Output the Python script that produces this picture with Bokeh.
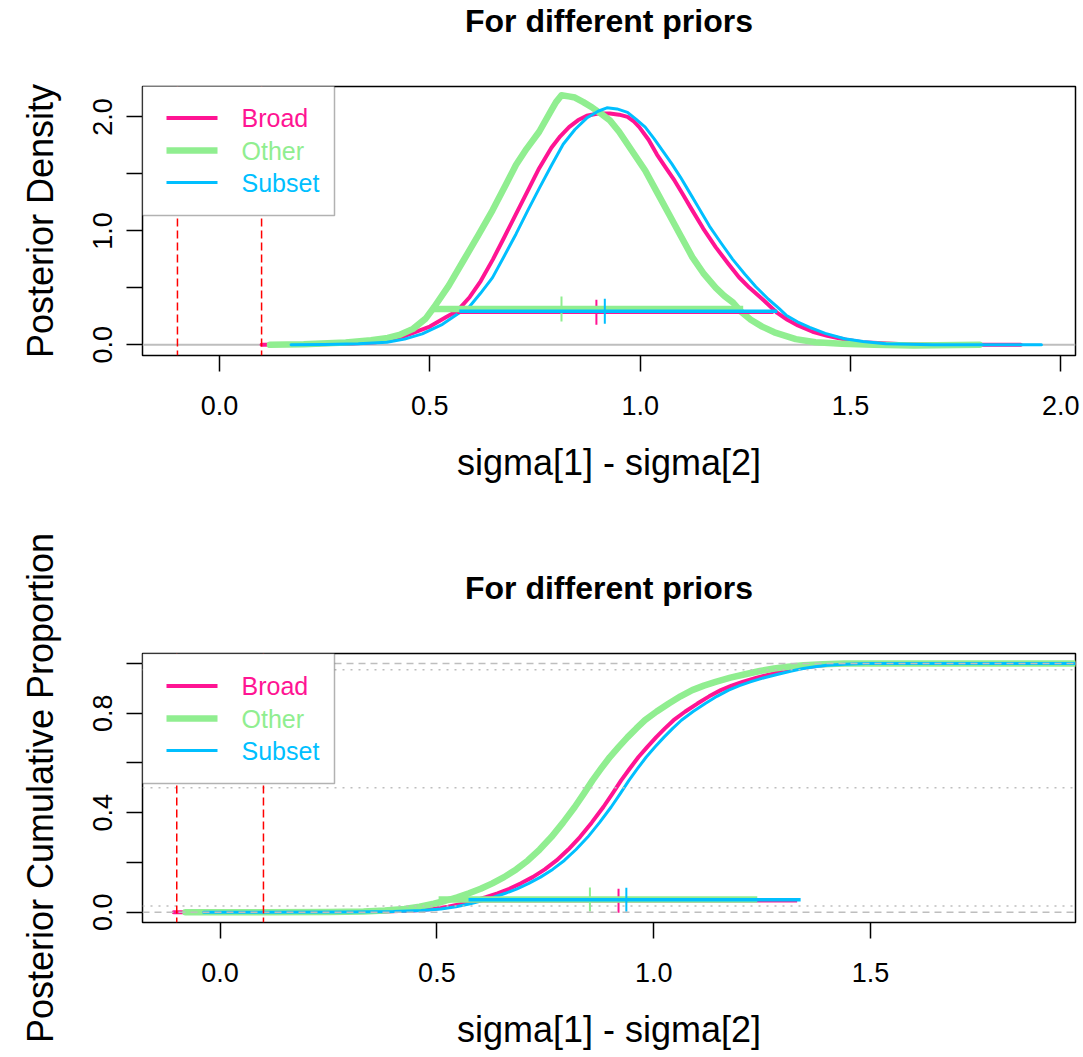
from bokeh.plotting import figure
from bokeh.models import (Range1d, FixedTicker, Span, BoxAnnotation, Label, Title,
                          NumeralTickFormatter)
from bokeh.layouts import column
from bokeh.embed import file_html
from bokeh.resources import INLINE

# ---------------- data ----------------
series = ["Broad", "Other", "Subset"]
colors = ["#FF1493", "#90EE90", "#00BFFF"]
rope = [-0.1, 0.1]

# posterior densities of sigma[1] - sigma[2]
broad_dens_x = [0.10, 0.20, 0.30, 0.37, 0.42, 0.454, 0.50, 0.538, 0.566, 0.595, 0.621, 0.65, 0.677,
                0.705, 0.733, 0.76, 0.789, 0.81, 0.831, 0.852, 0.873, 0.90, 0.928, 0.950, 0.970,
                0.985, 0.998, 1.02, 1.04, 1.06, 1.082, 1.10, 1.124, 1.15, 1.18, 1.21, 1.235, 1.26,
                1.291, 1.326, 1.35, 1.375, 1.41, 1.445, 1.49, 1.528, 1.626, 1.75, 1.905]
broad_dens_y = [0.0, 0.003, 0.01, 0.023, 0.05, 0.096, 0.16, 0.242, 0.30, 0.42, 0.56, 0.75, 0.944,
                1.15, 1.353, 1.55, 1.73, 1.83, 1.91, 1.97, 2.01, 2.03, 2.03, 2.02, 2.0,
                1.96, 1.91, 1.80, 1.67, 1.56, 1.44, 1.33, 1.18, 1.02, 0.855, 0.71, 0.593, 0.50,
                0.40, 0.28, 0.22, 0.17, 0.115, 0.08, 0.045, 0.023, 0.005, 0.0, 0.0]
other_dens_x = [0.12, 0.20, 0.30, 0.36, 0.40, 0.43, 0.46, 0.49, 0.51, 0.545, 0.58, 0.615, 0.649,
                0.68, 0.705, 0.73, 0.76, 0.789, 0.80, 0.813, 0.83, 0.845, 0.865, 0.887, 0.91,
                0.928, 0.95, 0.970, 0.99, 1.012, 1.04, 1.068, 1.096, 1.124, 1.15, 1.18, 1.20,
                1.221, 1.24, 1.263, 1.29, 1.319, 1.37, 1.417, 1.48, 1.556, 1.65, 1.807]
other_dens_y = [0.0, 0.005, 0.02, 0.04, 0.06, 0.09, 0.14, 0.23, 0.33, 0.52, 0.74, 0.96, 1.18,
                1.40, 1.58, 1.72, 1.87, 2.06, 2.13, 2.19, 2.18, 2.17, 2.13, 2.08, 2.02,
                1.97, 1.87, 1.76, 1.65, 1.53, 1.34, 1.15, 0.96, 0.77, 0.63, 0.50, 0.43,
                0.37, 0.29, 0.22, 0.16, 0.11, 0.05, 0.023, 0.01, 0.0, -0.005, 0.0]
subset_dens_x = [0.17, 0.25, 0.33, 0.398, 0.44, 0.482, 0.53, 0.566, 0.593, 0.62, 0.649, 0.677,
                 0.705, 0.733, 0.761, 0.79, 0.817, 0.845, 0.873, 0.90, 0.921, 0.945, 0.970, 0.99,
                 1.012, 1.033, 1.054, 1.075, 1.096, 1.117, 1.138, 1.165, 1.194, 1.22, 1.249, 1.275,
                 1.305, 1.33, 1.347, 1.375, 1.403, 1.44, 1.486, 1.53, 1.584, 1.696, 1.82, 1.954]
subset_dens_y = [0.0, 0.003, 0.01, 0.023, 0.05, 0.096, 0.18, 0.27, 0.33, 0.45, 0.59, 0.78,
                 0.973, 1.18, 1.38, 1.58, 1.76, 1.89, 1.99, 2.05, 2.08, 2.07, 2.04, 1.98,
                 1.91, 1.81, 1.70, 1.59, 1.47, 1.34, 1.21, 1.04, 0.885, 0.75, 0.62, 0.51,
                 0.40, 0.32, 0.26, 0.20, 0.154, 0.10, 0.053, 0.03, 0.01, 0.0, 0.0, 0.0]

# HDI bars and central ticks (density panel)
dens_hdi_low = [0.565, 0.51, 0.57]
dens_hdi_high = [1.317, 1.245, 1.326]
dens_hdi_level = [0.286, 0.315, 0.294]
dens_center = [0.896, 0.813, 0.916]

# cumulative proportions
cdf_y = [0.0, 0.0, 0.001, 0.003, 0.007, 0.013, 0.022, 0.034, 0.046, 0.06, 0.076, 0.094, 0.116,
         0.141, 0.172, 0.208, 0.252, 0.302, 0.36, 0.423, 0.477, 0.53, 0.578, 0.624, 0.666,
         0.704, 0.739, 0.772, 0.807, 0.839, 0.868, 0.893, 0.911, 0.926, 0.943, 0.957, 0.970,
         0.98, 0.987, 0.993, 0.997, 1.0, 1.0]
broad_cdf_x = [-0.107, 0.10, 0.28, 0.38, 0.446, 0.491, 0.526, 0.559, 0.586, 0.613, 0.640, 0.667,
               0.694, 0.721, 0.749, 0.776, 0.803, 0.830, 0.857, 0.884, 0.905, 0.925, 0.945,
               0.965, 0.986, 1.006, 1.026, 1.046, 1.073, 1.101, 1.128, 1.155, 1.180, 1.205,
               1.238, 1.27, 1.30, 1.33, 1.36, 1.39, 1.43, 1.48, 1.97]
other_cdf_x = [-0.08, 0.10, 0.25, 0.331, 0.38, 0.425, 0.46, 0.493, 0.52, 0.547, 0.574, 0.601,
               0.628, 0.655, 0.683, 0.710, 0.737, 0.764, 0.791, 0.818, 0.839, 0.859, 0.879,
               0.899, 0.92, 0.940, 0.96, 0.980, 1.007, 1.035, 1.062, 1.089, 1.116, 1.143,
               1.177, 1.211, 1.245, 1.278, 1.31, 1.346, 1.39, 1.44, 1.97]
subset_cdf_x = [-0.038, 0.10, 0.30, 0.40, 0.464, 0.509, 0.544, 0.577, 0.604, 0.631, 0.658, 0.685,
                0.712, 0.739, 0.767, 0.794, 0.821, 0.848, 0.875, 0.902, 0.923, 0.943, 0.963,
                0.983, 1.004, 1.024, 1.044, 1.064, 1.091, 1.119, 1.146, 1.173, 1.198, 1.223,
                1.255, 1.287, 1.318, 1.345, 1.372, 1.40, 1.44, 1.49, 1.97]
broad_cdf_y = list(cdf_y)
other_cdf_y = list(cdf_y)
subset_cdf_y = list(cdf_y)

cdf_hdi_low = [0.565, 0.504, 0.573]
cdf_hdi_high = [1.331, 1.239, 1.339]
cdf_hdi_level = [0.046, 0.051, 0.05]
cdf_center = [0.919, 0.853, 0.937]

cdf_dashed_levels = [0.0, 1.0]
cdf_dotted_levels = [0.025, 0.5, 0.975]

dens_xticks = [0.0, 0.5, 1.0, 1.5, 2.0]
dens_yticks = [0.0, 0.5, 1.0, 1.5, 2.0]
dens_yhidden = [0.5, 1.5]
cdf_xticks = [0.0, 0.5, 1.0, 1.5]
cdf_yticks = [0.0, 0.2, 0.4, 0.6, 0.8, 1.0]
cdf_yhidden = [0.2, 0.6, 1.0]

title_text = "For different priors"
xlabel = "sigma[1] - sigma[2]"

# ---------------- styling ----------------
FONT = "Liberation Sans"
line_widths = [4, 6.5, 3]
GRAY = "#BEBEBE"


def make_panel(height, btop, bbottom, xr, yr, xticks, yticks, yhidden, ylabel):
    p = figure(width=1083, height=height, x_range=Range1d(*xr), y_range=Range1d(*yr),
               output_backend="svg", toolbar_location=None,
               min_border_left=142, min_border_right=8,
               min_border_top=btop, min_border_bottom=bbottom)
    p.background_fill_color = "white"
    p.border_fill_color = "white"
    p.outline_line_color = "black"
    p.outline_line_width = 1.5
    p.xgrid.visible = False
    p.ygrid.visible = False
    # spacer between frame and title (blank text), then the real title above it
    p.add_layout(Title(text=" ", text_font_size="12px", standoff=31.5), "above")
    p.add_layout(Title(text=title_text, text_font=FONT, text_font_size="32px",
                       text_font_style="bold", text_color="black", align="center",
                       standoff=0), "above")
    for ax in (p.xaxis[0], p.yaxis[0]):
        ax.axis_line_color = None
        ax.major_tick_in = 0
        ax.major_tick_out = 16
        ax.major_tick_line_width = 1.5
        ax.major_tick_line_color = "black"
        ax.minor_tick_line_color = None
        ax.major_label_text_font = FONT
        ax.major_label_text_font_size = "27px"
        ax.major_label_text_color = "black"
        ax.axis_label_text_font = FONT
        ax.axis_label_text_font_size = "36px"
        ax.axis_label_text_font_style = "normal"
        ax.axis_label_text_color = "black"
    p.xaxis.ticker = FixedTicker(ticks=xticks)
    p.xaxis.formatter = NumeralTickFormatter(format="0.0")
    p.xaxis.major_label_standoff = 24
    p.xaxis.axis_label_standoff = 24
    p.xaxis.axis_label = xlabel
    p.yaxis.ticker = FixedTicker(ticks=yticks)
    p.yaxis.formatter = NumeralTickFormatter(format="0.0")
    p.yaxis.major_label_overrides = {t: "" for t in yhidden}
    p.yaxis.major_label_orientation = "vertical"
    p.yaxis.major_label_standoff = 14
    p.yaxis.axis_label_standoff = 30
    p.yaxis.axis_label = ylabel
    return p


def add_legend(p, frame_h):
    p.add_layout(BoxAnnotation(left=0, right=192, top=frame_h, bottom=frame_h - 130,
                               left_units="screen", right_units="screen",
                               top_units="screen", bottom_units="screen",
                               fill_color="white", fill_alpha=1.0,
                               line_color="black", line_width=1.5))
    centers = [32.5, 65, 97]
    for name, col, lw, c in zip(series, colors, line_widths, centers):
        p.add_layout(BoxAnnotation(left=24, right=75, top=frame_h - c + lw / 2,
                                   bottom=frame_h - c - lw / 2,
                                   left_units="screen", right_units="screen",
                                   top_units="screen", bottom_units="screen",
                                   fill_color=col, fill_alpha=1.0, line_color=None))
        p.add_layout(Label(x=99, y=frame_h - c, x_units="screen", y_units="screen",
                           text=name, text_color=col, text_font=FONT,
                           text_font_size="25px", text_baseline="middle",
                           text_align="left"))


# ---------------- top panel: densities ----------------
p1 = make_panel(528, 85, 173, (-0.1831, 2.035), (-0.0937, 2.267),
                dens_xticks, dens_yticks, dens_yhidden, "Posterior Density")
p1.add_layout(Span(location=0, dimension="width", line_color=GRAY, line_width=2,
                   level="underlay"))
dens_curves = [(broad_dens_x, broad_dens_y), (other_dens_x, other_dens_y),
               (subset_dens_x, subset_dens_y)]
for (xs, ys), col, lw in zip(dens_curves, colors, line_widths):
    p1.line(xs, ys, line_color=col, line_width=lw, line_cap="round", line_join="round")
for i, col in enumerate(colors):
    p1.segment(x0=[dens_hdi_low[i]], y0=[dens_hdi_level[i]], x1=[dens_hdi_high[i]],
               y1=[dens_hdi_level[i]], line_color=col,
               line_width=line_widths[i] if i == 1 else 3.5)
    p1.segment(x0=[dens_center[i]], y0=[dens_hdi_level[i] - 0.11], x1=[dens_center[i]],
               y1=[dens_hdi_level[i] + 0.11], line_color=col, line_width=2)
for r in rope:
    p1.add_layout(Span(location=r, dimension="height", line_color="red", line_width=1.5,
                       line_dash="8 4"))
add_legend(p1, 270)

# ---------------- bottom panel: cumulative ----------------
p2 = make_panel(529, 125, 135, (-0.179, 1.973), (-0.0415, 1.0403),
                cdf_xticks, cdf_yticks, cdf_yhidden, "Posterior Cumulative Proportion")
cdf_curves = [(broad_cdf_x, broad_cdf_y), (other_cdf_x, other_cdf_y),
              (subset_cdf_x, subset_cdf_y)]
for (xs, ys), col, lw in zip(cdf_curves, colors, line_widths):
    p2.line(xs, ys, line_color=col, line_width=lw, line_cap="round", line_join="round")
for i, col in enumerate(colors):
    p2.segment(x0=[cdf_hdi_low[i]], y0=[cdf_hdi_level[i]], x1=[cdf_hdi_high[i]],
               y1=[cdf_hdi_level[i]], line_color=col,
               line_width=line_widths[i] if i == 1 else 3.5)
    p2.segment(x0=[cdf_center[i]], y0=[cdf_hdi_level[i] - 0.048], x1=[cdf_center[i]],
               y1=[cdf_hdi_level[i] + 0.048], line_color=col, line_width=2)
for lv in cdf_dashed_levels:
    p2.add_layout(Span(location=lv, dimension="width", line_color=GRAY, line_width=1.5,
                       line_dash="7 5"))
for lv in cdf_dotted_levels:
    p2.add_layout(Span(location=lv, dimension="width", line_color=GRAY, line_width=1.5,
                       line_dash="2 6"))
for r in rope:
    p2.add_layout(Span(location=r, dimension="height", line_color="red", line_width=1.5,
                       line_dash="8 4"))
add_legend(p2, 269)

layout = column(p1, p2, spacing=0)
open("out.html", "w").write(file_html(layout, INLINE))
